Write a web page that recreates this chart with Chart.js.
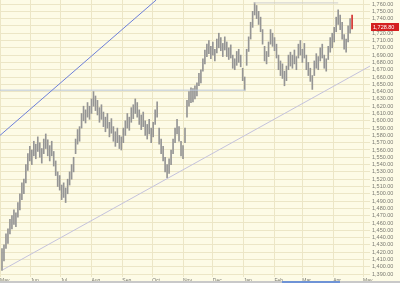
<!DOCTYPE html>
<html>
<head>
<meta charset="utf-8">
<script src="https://cdn.jsdelivr.net/npm/chart.js@4.4.0/dist/chart.umd.min.js"></script>
<style>
  html, body { margin: 0; padding: 0; background: #fdfbe6; }
  #wrap { position: relative; width: 400px; height: 283px; overflow: hidden; }
  #scroll { position: absolute; left: 0; top: 281px; width: 400px; height: 2px; background: #c9c9c9; }
  #thumb { position: absolute; left: 282px; top: 0; width: 58px; height: 2px; background: #6f93d6; }
</style>
</head>
<body>
<div id="wrap">
  <canvas id="price" width="400" height="283"></canvas>
  <div id="scroll"><div id="thumb"></div></div>
</div>
<script>
// month grid (day offsets from the first of May) and their labels
const monthStarts = [0, 31, 61, 92, 123, 153, 184, 214, 245, 276, 304, 335, 365];
const monthLabels = ['May', 'Jun', 'Jul', 'Aug', 'Sep', 'Oct', 'Nov', 'Dec', 'Jan', 'Feb', 'Mar', 'Apr', 'May'];

// bar highs / lows (one bar every two days)
const highs = [
  1425, 1430, 1445, 1452, 1465, 1470, 1478, 1474, 1488, 1500, 1515, 1520, 1540, 1555,
  1565, 1560, 1572, 1568, 1578, 1570, 1562, 1575, 1582, 1574, 1566, 1572, 1558, 1545,
  1530, 1525, 1512, 1515, 1508, 1520, 1530, 1540,
  1550, 1575, 1588, 1592, 1610, 1620, 1615, 1625, 1620, 1630, 1640,
  1634, 1628, 1618, 1622, 1612, 1605, 1610, 1598, 1603, 1592, 1585, 1590, 1580, 1578, 1590,
  1600, 1610, 1605, 1618, 1622, 1630, 1625, 1615, 1608, 1612, 1600, 1595, 1602, 1590, 1598, 1615, 1626,
  1590, 1575, 1565, 1550, 1540, 1548,
  1560, 1575, 1590, 1602, 1592, 1572, 1566, 1590, 1628, 1640, 1645, 1644, 1648, 1652,
  1665, 1670, 1685, 1697, 1705, 1710, 1702, 1708, 1698, 1712, 1720, 1714, 1706, 1715, 1708, 1700,
  1704, 1690, 1685, 1695, 1698, 1690, 1672, 1660,
  1698, 1715, 1735, 1750, 1762, 1758, 1750, 1742,
  1725, 1702, 1695, 1708, 1725, 1720, 1714, 1705, 1690, 1682, 1678, 1668, 1675, 1690,
  1694, 1690, 1697, 1688, 1705, 1710, 1698, 1706, 1690, 1680, 1672, 1662, 1682, 1692,
  1688, 1700, 1705, 1690, 1685, 1702, 1714, 1720, 1728, 1742, 1752, 1745, 1735, 1718, 1712, 1730, 1740, 1745
];
const lows = [
  1395, 1408, 1425, 1432, 1445, 1452, 1458, 1455, 1468, 1478, 1492, 1500, 1515, 1532,
  1545, 1540, 1552, 1548, 1558, 1550, 1542, 1555, 1562, 1552, 1545, 1552, 1538, 1525,
  1510, 1505, 1492, 1495, 1488, 1500, 1512, 1520,
  1530, 1555, 1568, 1572, 1590, 1600, 1597, 1605, 1602, 1610, 1620,
  1614, 1608, 1598, 1602, 1592, 1585, 1590, 1578, 1583, 1572, 1565, 1570, 1562, 1560, 1570,
  1580, 1590, 1587, 1598, 1603, 1610, 1605, 1595, 1588, 1592, 1580, 1575, 1582, 1570, 1578, 1595, 1605,
  1568, 1555, 1545, 1530, 1522, 1528,
  1540, 1555, 1570, 1582, 1572, 1552, 1548, 1570, 1605, 1620, 1625, 1626, 1630, 1634,
  1648, 1652, 1668, 1678, 1688, 1692, 1685, 1690, 1682, 1693, 1700, 1696, 1688, 1697, 1688, 1684,
  1686, 1672, 1670, 1676, 1680, 1674, 1655, 1642,
  1676, 1695, 1712, 1728, 1745, 1740, 1732, 1722,
  1705, 1682, 1678, 1688, 1705, 1702, 1696, 1686, 1670, 1662, 1658, 1648, 1655, 1670,
  1675, 1672, 1678, 1670, 1686, 1690, 1680, 1686, 1670, 1662, 1654, 1643, 1662, 1672,
  1670, 1682, 1686, 1672, 1668, 1684, 1694, 1700, 1708, 1722, 1732, 1725, 1712, 1698, 1694, 1708, 1720, 1726
];
const lastClose = 1728.8;

// drawn study lines: [day, price] end points
const upperTrend = [[0, 1580], [157, 1765.5]];
const lowerTrend = [[3, 1396], [372, 1675]];
const supportLine = [[0, 1642], [247, 1642]];
const topLine = [[255, 1761.5], [340, 1761.5]];

const yMin = 1386, yMax = 1765.5, yStep = 10;
const gridColor = '#ece6c6';
const labelColor = '#7a7a72';
const fontFamily = '"Liberation Sans", Arial, sans-serif';

const bars = highs.map((h, i) => ({ x: 2 + 2 * i, y: [lows[i], h] }));
const toPts = arr => arr.map(p => ({ x: p[0], y: p[1] }));

function lineSet(arr, color) {
  return { type: 'line', data: toPts(arr), borderColor: color, borderWidth: 1,
    pointRadius: 0, fill: false, tension: 0 };
}

// red last-price tag on the price axis
const lastTag = {
  id: 'lastTag',
  afterDraw(chart) {
    const y = Math.round(chart.scales.y.getPixelForValue(lastClose));
    const x = chart.chartArea.right + 1;
    const c = chart.ctx;
    c.save();
    c.fillStyle = '#d42020';
    c.fillRect(x, y - 4, 28, 8);
    c.fillStyle = '#ffffff';
    c.font = '5.5px ' + fontFamily;
    c.textBaseline = 'middle';
    c.fillText(lastClose.toLocaleString('en-US', { minimumFractionDigits: 2 }), x + 2, y);
    c.restore();
  }
};

new Chart(document.getElementById('price'), {
  type: 'bar',
  data: {
    datasets: [
      lineSet(upperTrend, '#6d7fd8'),
      lineSet(lowerTrend, '#c4c2dc'),
      lineSet(supportLine, '#b9c6da'),
      lineSet(topLine, '#cfcfcf'),
      {
        type: 'bar',
        data: bars,
        barThickness: 1,
        backgroundColor: bars.map((b, i) => i === bars.length - 1 ? '#d43030' : '#959595')
      }
    ]
  },
  options: {
    responsive: false,
    animation: false,
    devicePixelRatio: 1,
    layout: { padding: 0 },
    plugins: { legend: { display: false }, tooltip: { enabled: false } },
    scales: {
      x: {
        type: 'linear',
        offset: false,
        min: 0,
        max: 372,
        afterBuildTicks: s => { s.ticks = monthStarts.map(v => ({ value: v })); },
        afterFit: s => { s.height = 6; s.paddingLeft = 0; s.paddingRight = 0; },
        grid: { color: gridColor, drawTicks: false, offset: false },
        border: { display: false },
        ticks: {
          align: 'start',
          padding: 1,
          maxRotation: 0,
          autoSkip: false,
          color: labelColor,
          font: { size: 5, family: fontFamily },
          callback: (v, i) => monthLabels[i]
        }
      },
      y: {
        position: 'right',
        min: yMin,
        max: yMax,
        afterFit: s => { s.width = 30; s.paddingTop = 0; s.paddingBottom = 0; },
        grid: { color: gridColor, drawTicks: false },
        border: { display: false },
        ticks: {
          stepSize: yStep,
          includeBounds: false,
          padding: 2,
          autoSkip: false,
          color: labelColor,
          font: { size: 5.5, family: fontFamily },
          callback: v => v.toLocaleString('en-US', { minimumFractionDigits: 2 })
        }
      }
    }
  },
  plugins: [lastTag]
});
</script>
</body>
</html>
